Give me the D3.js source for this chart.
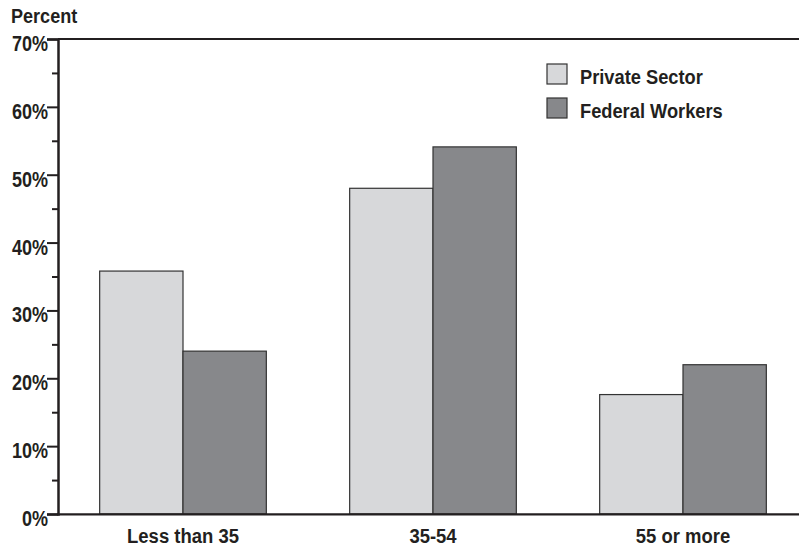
<!DOCTYPE html>
<html>
<head>
<meta charset="utf-8">
<script src="https://cdn.jsdelivr.net/npm/d3@7"></script>
<style>
  html, body { margin: 0; padding: 0; background: #fff; }
  svg { display: block; }
  text { font-family: "Liberation Sans", Arial, sans-serif; font-weight: bold; fill: #231f20; }
</style>
</head>
<body>
<svg id="chart" width="799" height="546"></svg>
<script>
const categories = ["Less than 35", "35-54", "55 or more"];
const seriesNames = ["Private Sector", "Federal Workers"];
const privateSector = [35.8, 48.0, 17.6];
const federalWorkers = [24.0, 54.1, 22.0];
const yTicks = [0, 10, 20, 30, 40, 50, 60, 70];
const yMinorTicks = [5, 15, 25, 35, 45, 55, 65];
const colors = ["#d7d8da", "#87888b"];

const svg = d3.select("#chart");
const W = 799;
const axisX = 58, y0 = 514, yTop = 39;
const SX = 0.82; // horizontal condensing to mimic a condensed bold face

const y = d3.scaleLinear().domain([0, 70]).range([y0, yTop]);
const x = d3.scaleBand().domain(categories).range([axisX, axisX + 750]).paddingInner(1/3).paddingOuter(1/6);
const xs = d3.scaleBand().domain(seriesNames).range([0, x.bandwidth()]).padding(0);

const dataRows = categories.map((c, i) => ({ cat: c, values: [privateSector[i], federalWorkers[i]] }));

// Bars
const groups = svg.append("g").selectAll("g").data(dataRows).join("g")
  .attr("transform", d => `translate(${x(d.cat)},0)`);
groups.selectAll("rect").data(d => d.values.map((v, k) => ({ v, k, name: seriesNames[k] })))
  .join("rect")
  .attr("x", d => xs(d.name))
  .attr("y", d => y(d.v))
  .attr("width", xs.bandwidth())
  .attr("height", d => y0 - y(d.v))
  .attr("fill", d => colors[d.k])
  .attr("stroke", "#333")
  .attr("stroke-width", 1.2);

// Top line at 70%
svg.append("line").attr("x1", axisX).attr("x2", W).attr("y1", y(70)).attr("y2", y(70))
  .attr("stroke", "#231f20").attr("stroke-width", 2);
// X axis baseline
svg.append("line").attr("x1", axisX - 1).attr("x2", W).attr("y1", y0 + 0.3).attr("y2", y0 + 0.3)
  .attr("stroke", "#231f20").attr("stroke-width", 2.2);

// Y axis
const yAxis = d3.axisLeft(y).tickValues(yTicks).tickSize(11).tickFormat(d => d + "%");
const gy = svg.append("g").attr("transform", `translate(${axisX},0)`).call(yAxis);
gy.attr("font-family", null).attr("font-size", null);
gy.select(".domain").attr("stroke", "#231f20").attr("stroke-width", 2.5);
gy.selectAll(".tick line").attr("stroke", "#231f20").attr("stroke-width", 2);
gy.selectAll(".tick text").attr("x", 0).attr("y", 0).attr("dy", null)
  .attr("transform", `translate(-10,11.5) scale(${SX},1)`)
  .style("font-size", "22px").attr("fill", "#231f20");

const gyMinor = svg.append("g").attr("transform", `translate(${axisX},0)`)
  .call(d3.axisLeft(y).tickValues(yMinorTicks).tickSize(6).tickFormat(""));
gyMinor.select(".domain").remove();
gyMinor.selectAll(".tick line").attr("stroke", "#231f20").attr("stroke-width", 2);

// X labels
const xAxis = d3.axisBottom(x).tickSize(0);
const gx = svg.append("g").attr("transform", `translate(0,${y0})`).call(xAxis);
gx.select(".domain").remove();
gx.attr("font-family", null).attr("font-size", null);
gx.selectAll(".tick text").attr("x", 0).attr("y", 0).attr("dy", null)
  .attr("transform", `translate(0,29) scale(0.88,1)`)
  .style("font-size", "21px").attr("fill", "#231f20");

// Y title
svg.append("text").attr("transform", `translate(11,23) scale(0.86,1)`).style("font-size", "21px").text("Percent");

// Legend
const legend = svg.append("g").attr("transform", "translate(547,64)");
const li = legend.selectAll("g").data(seriesNames).join("g")
  .attr("transform", (d, i) => `translate(0,${i * 34})`);
li.append("rect").attr("width", 20).attr("height", 20)
  .attr("fill", (d, i) => colors[i]).attr("stroke", "#333").attr("stroke-width", 1.2);
li.append("text").attr("transform", `translate(33,19.5) scale(0.87,1)`).style("font-size", "21px").text(d => d);
</script>
</body>
</html>
